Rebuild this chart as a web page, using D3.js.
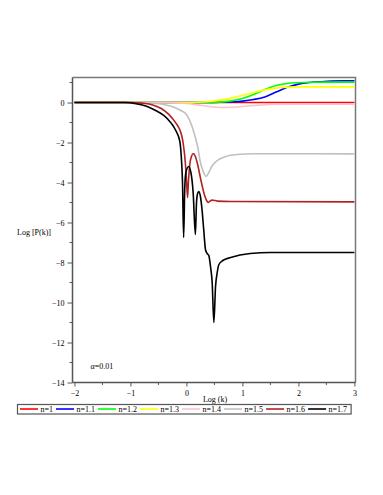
<!DOCTYPE html>
<html>
<head>
<meta charset="utf-8">
<script src="https://cdn.jsdelivr.net/npm/d3@7"></script>
<style>
  html, body { margin: 0; padding: 0; background: #fff; }
  svg { display: block; }
  text { font-family: "Liberation Serif", "DejaVu Serif", serif; fill: #000; }
</style>
</head>
<body>
<div id="chart"></div>
<script>
// ---- data: Log(k) vs Log[P(k)], alpha = 0.01 ----
const seriesNames = ['n=1', 'n=1.1', 'n=1.2', 'n=1.3', 'n=1.4', 'n=1.5', 'n=1.6', 'n=1.7'];
const seriesColors = ['#ff0000', '#0000ff', '#00ff00', '#ffff00', '#ffc0cb', '#c0c0c0', '#b22222', '#000000'];

const n10 = [[-2, 0], [3, 0]];
const n11 = [[-2, 0], [0.4, 0], [0.6, 0.01], [0.8, 0.03], [1.0, 0.07], [1.2, 0.15], [1.4, 0.28],
  [1.6, 0.52], [1.8, 0.76], [2.0, 0.92], [2.2, 1.0], [2.4, 1.04], [2.6, 1.07], [2.8, 1.08], [3, 1.08]];
const n12 = [[-2, 0], [0.4, 0], [0.6, 0.02], [0.8, 0.08], [1.0, 0.2], [1.2, 0.4], [1.4, 0.65],
  [1.6, 0.85], [1.8, 0.95], [2.0, 0.99], [2.2, 1.01], [2.5, 1.02], [3, 1.02]];
const n13 = [[-2, 0], [0.0, 0], [0.2, 0.01], [0.4, 0.05], [0.6, 0.12], [0.8, 0.22], [1.0, 0.36],
  [1.2, 0.5], [1.4, 0.63], [1.6, 0.72], [1.8, 0.77], [2.0, 0.78], [3, 0.78]];
const n14 = [[-2, 0], [-0.5, 0], [0.0, -0.05], [0.2, -0.12], [0.4, -0.2], [0.6, -0.25], [0.8, -0.24],
  [1.0, -0.2], [1.2, -0.15], [1.5, -0.1], [2.0, -0.08], [3, -0.08]];
const n15 = [[-2, 0], [-1, -0.01], [-0.6, -0.04], [-0.4, -0.1], [-0.2, -0.26], [-0.1, -0.4], [0.0, -0.6],
  [0.1, -1.2], [0.16, -1.75], [0.2, -2.2], [0.25, -3.0], [0.3, -3.45], [0.35, -3.7], [0.4, -3.5],
  [0.45, -3.2], [0.55, -2.9], [0.7, -2.7], [0.9, -2.6], [1.2, -2.56], [3, -2.57]];
const n16 = [[-2, 0], [-1.0, 0], [-0.8, -0.03], [-0.6, -0.12], [-0.45, -0.3], [-0.32, -0.58], [-0.2, -0.98],
  [-0.12, -1.35], [-0.08, -1.7], [-0.05, -2.2], [-0.02, -3.0], [0.0, -3.8], [0.02, -4.75], [0.035, -4.0],
  [0.06, -3.1], [0.09, -2.7], [0.12, -2.55], [0.16, -2.7], [0.2, -3.1], [0.26, -3.9], [0.32, -4.6],
  [0.36, -4.9], [0.39, -5.0], [0.42, -4.93], [0.46, -4.88], [0.55, -4.93], [0.8, -4.95], [3, -4.97]];
const n17 = [[-2, 0], [-1.1, 0], [-0.9, -0.06], [-0.7, -0.2], [-0.55, -0.4], [-0.4, -0.66], [-0.29, -0.97],
  [-0.2, -1.35], [-0.12, -1.92], [-0.09, -2.8], [-0.07, -4.0], [-0.05, -6.75], [-0.03, -4.3], [-0.01, -3.5],
  [0.04, -3.2], [0.08, -3.5], [0.12, -4.5], [0.16, -6.6], [0.18, -5.0], [0.2, -4.55], [0.22, -4.45],
  [0.25, -4.7], [0.28, -5.4], [0.31, -6.4], [0.34, -7.35], [0.37, -7.55], [0.4, -7.65], [0.43, -8.2],
  [0.46, -9.0], [0.49, -11.0], [0.52, -9.2], [0.55, -8.5], [0.58, -8.1], [0.65, -7.9], [0.79, -7.75],
  [1.14, -7.55], [1.5, -7.5], [3, -7.5]];
const seriesData = [n10, n11, n12, n13, n14, n15, n16, n17];

const xTicks = [-2, -1, 0, 1, 2, 3];
const yTicks = [0, -2, -4, -6, -8, -10, -12, -14];

// ---- layout ----
const width = 383, height = 495;
const svg = d3.select('#chart').append('svg')
  .attr('width', width).attr('height', height);

const x = d3.scaleLinear().domain([-2.035, 3.02]).range([72.5, 355.5]);
const y = d3.scaleLinear().domain([-14, 1.25]).range([382.5, 77.5]);

// frame (top + right)
svg.append('path')
  .attr('d', `M${x.range()[0]},${y.range()[1]}H${x.range()[1]}V${y.range()[0]}`)
  .attr('fill', 'none').attr('stroke', '#777').attr('stroke-width', 1.5);

// curves
const line = d3.line().x(d => x(d[0])).y(d => y(d[1])).curve(d3.curveMonotoneX);
svg.append('g').selectAll('path')
  .data(seriesData)
  .join('path')
  .attr('d', line)
  .attr('fill', 'none')
  .attr('stroke', (d, i) => seriesColors[i])
  .attr('stroke-width', 1.6)
  .attr('stroke-linejoin', 'round');

// axes
const fmt = v => (v < 0 ? '\u2212' : '') + Math.abs(v);
const yAxis = svg.append('g').attr('transform', `translate(${x.range()[0]},0)`)
  .call(d3.axisLeft(y).tickValues(yTicks).tickSize(5).tickPadding(3).tickFormat(fmt));
yAxis.append('g').selectAll('line')
  .data(d3.range(-13, 2, 2))
  .join('line')
  .attr('x1', -3).attr('x2', 0)
  .attr('y1', d => y(d)).attr('y2', d => y(d))
  .attr('stroke', '#555');

const xAxis = svg.append('g').attr('transform', `translate(0,${y.range()[0]})`)
  .call(d3.axisBottom(x).tickValues(xTicks).tickSize(4).tickPadding(4).tickFormat(fmt));
xAxis.append('g').selectAll('line')
  .data(d3.range(-1.5, 3, 1))
  .join('line')
  .attr('x1', d => x(d)).attr('x2', d => x(d))
  .attr('y1', 0).attr('y2', 2.5)
  .attr('stroke', '#555');

[yAxis, xAxis].forEach(a => {
  a.select('.domain').attr('stroke', '#555').attr('stroke-width', 1.5);
  a.selectAll('.tick line').attr('stroke', '#555');
  a.selectAll('text').attr('font-family', '"Liberation Serif", serif').attr('font-size', 8).attr('fill', '#000');
});
yAxis.select('.domain').attr('d', `M0,${y.range()[0]}V${y.range()[1]}`);
xAxis.select('.domain').attr('d', `M${x.range()[0]},0H${x.range()[1]}`);

// labels
svg.append('text').attr('x', 17).attr('y', 234.5)
  .attr('font-size', 8).text('Log [P(k)]');
svg.append('text').attr('x', 215).attr('y', 402).attr('text-anchor', 'middle')
  .attr('font-size', 8).text('Log (k)');
svg.append('text').attr('x', 90.5).attr('y', 369)
  .attr('font-size', 8).text('\u03b1=0.01');

// legend
const legend = svg.append('g');
let lx = 20;
const ly = 409;
const items = legend.selectAll('g').data(seriesNames).join('g');
items.each(function(name, i) {
  const g = d3.select(this);
  g.append('line').attr('x1', lx).attr('x2', lx + 18).attr('y1', ly).attr('y2', ly)
    .attr('stroke', seriesColors[i]).attr('stroke-width', 1.6);
  const t = g.append('text').attr('x', lx + 20.5).attr('y', ly + 3)
    .attr('font-size', 8).text(name);
  lx += 20.5 + t.node().getComputedTextLength() + 3;
});
legend.insert('rect', ':first-child')
  .attr('x', 17.5).attr('y', 404.5).attr('width', lx - 17.5 + 1).attr('height', 9.5)
  .attr('fill', '#fff').attr('stroke', '#555').attr('stroke-width', 1.2);
</script>
</body>
</html>
